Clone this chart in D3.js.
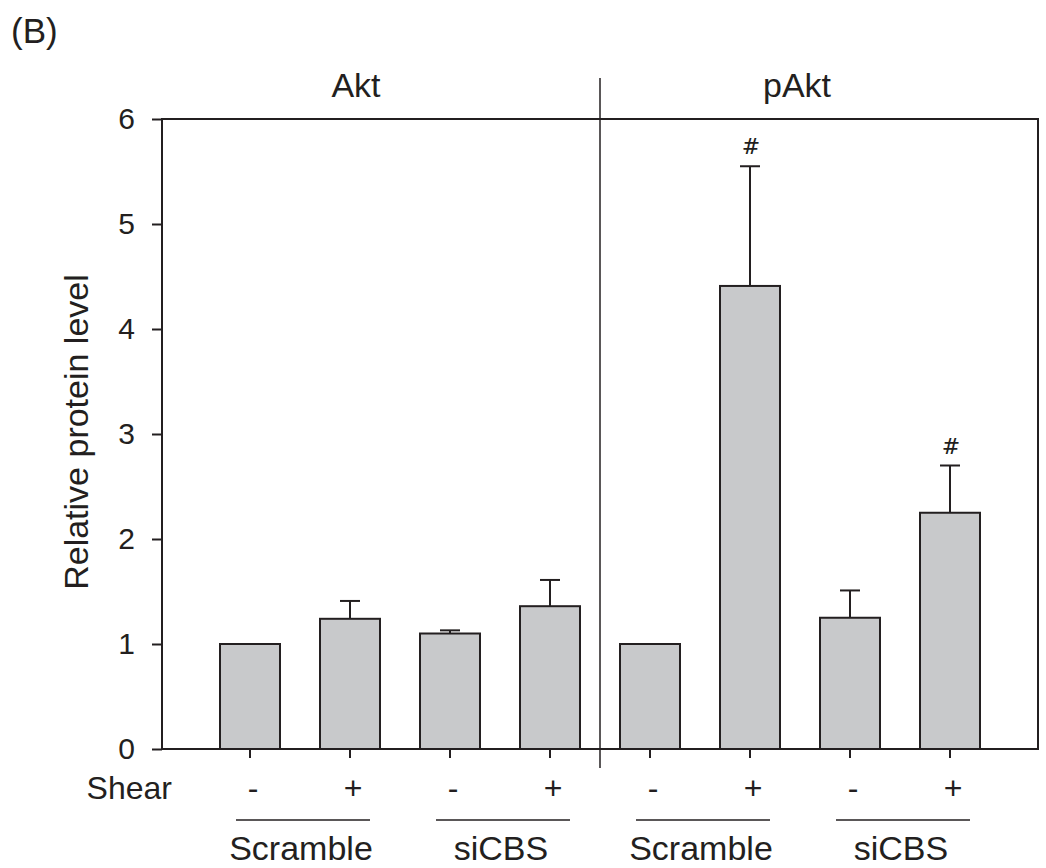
<!DOCTYPE html>
<html>
<head>
<meta charset="utf-8">
<script src="https://cdn.jsdelivr.net/npm/d3@7"></script>
<style>
  body { margin: 0; background: #fff; }
  text { font-family: "Liberation Sans", Arial, sans-serif; fill: #231f20; }
</style>
</head>
<body>
<svg id="chart" width="1046" height="868"></svg>
<script>
// values
var panels   = ["Akt", "pAkt"];
var groups   = ["Scramble", "siCBS", "Scramble", "siCBS"];
var shear    = ["-", "+", "-", "+", "-", "+", "-", "+"];
var means    = [1.00, 1.24, 1.10, 1.36, 1.00, 4.41, 1.25, 2.25];
var errs     = [0.00, 0.17, 0.03, 0.25, 0.00, 1.14, 0.26, 0.45];
var marks    = ["", "", "", "", "", "#", "", "#"];
var yTicks   = [0, 1, 2, 3, 4, 5, 6];

var ink = "#231f20";
var barFill = "#c8c9cb";

var svg = d3.select("#chart");
var m = {left: 162, right: 1038, top: 119, bottom: 749};

var ids = d3.range(means.length);

var x = d3.scaleBand()
  .domain(ids)
  .range([m.left, m.right])
  .paddingInner(0.4)
  .paddingOuter(0.58);

var y = d3.scaleLinear()
  .domain([0, 6])
  .range([m.bottom, m.top]);

var cx = function(i) { return x(i) + x.bandwidth() / 2; };

// bars
svg.append("g").selectAll("rect")
  .data(ids)
  .enter().append("rect")
    .attr("x", function(i) { return x(i); })
    .attr("y", function(i) { return y(means[i]); })
    .attr("width", x.bandwidth())
    .attr("height", function(i) { return y(0) - y(means[i]); })
    .attr("fill", barFill)
    .attr("stroke", ink)
    .attr("stroke-width", 2);

// error bars (upper only)
var eb = svg.append("g")
  .attr("stroke", ink)
  .attr("stroke-width", 2)
  .selectAll("g")
  .data(ids.filter(function(i) { return errs[i] > 0; }))
  .enter().append("g");

eb.append("line")
  .attr("x1", cx)
  .attr("x2", cx)
  .attr("y1", function(i) { return y(means[i]); })
  .attr("y2", function(i) { return y(means[i] + errs[i]); });

eb.append("line")
  .attr("x1", function(i) { return cx(i) - 10; })
  .attr("x2", function(i) { return cx(i) + 10; })
  .attr("y1", function(i) { return y(means[i] + errs[i]); })
  .attr("y2", function(i) { return y(means[i] + errs[i]); });

// significance marks
svg.append("g").selectAll("text")
  .data(ids.filter(function(i) { return marks[i]; }))
  .enter().append("text")
    .attr("x", function(i) { return cx(i) + 1; })
    .attr("y", function(i) { return y(means[i] + errs[i]) - 12; })
    .attr("text-anchor", "middle")
    .style("font-family", "'DejaVu Serif', serif")
    .style("font-style", "italic")
    .style("font-size", "22px")
    .text(function(i) { return marks[i]; });

// frame
svg.append("rect")
  .attr("x", m.left).attr("y", m.top)
  .attr("width", m.right - m.left).attr("height", m.bottom - m.top)
  .attr("fill", "none")
  .attr("stroke", ink)
  .attr("stroke-width", 2);

// y axis
var ay = svg.append("g")
  .attr("transform", `translate(${m.left}, 0)`)
  .call(d3.axisLeft(y).tickValues(yTicks).tickSize(10).tickPadding(17).tickFormat(d3.format("d")));
ay.select(".domain").remove();
ay.selectAll(".tick line").attr("stroke", ink).attr("stroke-width", 2);
ay.selectAll(".tick text")
  .style("font-size", "30px")
  .style("font-family", "'Liberation Sans', Arial, sans-serif")
  .attr("fill", ink);

// x ticks
var ax = svg.append("g")
  .attr("transform", `translate(0, ${m.bottom})`)
  .call(d3.axisBottom(x).tickSize(9).tickFormat(""));
ax.select(".domain").remove();
ax.selectAll(".tick line").attr("stroke", ink).attr("stroke-width", 2);

// shear row
svg.append("text")
  .attr("x", 172).attr("y", 799)
  .attr("text-anchor", "end")
  .style("font-size", "32px")
  .text("Shear");

svg.append("g").selectAll("text")
  .data(ids)
  .enter().append("text")
    .attr("x", function(i) { return cx(i) + 3; })
    .attr("y", 799)
    .attr("text-anchor", "middle")
    .style("font-size", "32px")
    .text(function(i) { return shear[i]; });

// group underlines and labels
var gIdx = d3.range(groups.length);

svg.append("g").selectAll("line")
  .data(gIdx)
  .enter().append("line")
    .attr("x1", function(g) { return cx(g * 2) - 14; })
    .attr("x2", function(g) { return cx(g * 2 + 1) + 20; })
    .attr("y1", 820).attr("y2", 820)
    .attr("stroke", ink)
    .attr("stroke-width", 1.5);

svg.append("g").selectAll("text")
  .data(gIdx)
  .enter().append("text")
    .attr("x", function(g) { return (cx(g * 2) + cx(g * 2 + 1)) / 2 + 1; })
    .attr("y", 860)
    .attr("text-anchor", "middle")
    .style("font-size", "34px")
    .text(function(g) { return groups[g]; });

// divider between panels
var mid = (cx(3) + cx(4)) / 2;
svg.append("line")
  .attr("x1", mid).attr("x2", mid)
  .attr("y1", 78).attr("y2", 768)
  .attr("stroke", ink)
  .attr("stroke-width", 1.5);

// panel titles
svg.append("g").selectAll("text")
  .data(panels)
  .enter().append("text")
    .attr("x", function(d, k) { return k === 0 ? (m.left + mid) / 2 - 25 : (mid + m.right) / 2 - 22; })
    .attr("y", 97)
    .attr("text-anchor", "middle")
    .style("font-size", "34px")
    .text(function(d) { return d; });

// y label
svg.append("text")
  .attr("transform", "translate(88, 432) rotate(-90)")
  .attr("text-anchor", "middle")
  .style("font-size", "34px")
  .text("Relative protein level");

// panel letter
svg.append("text")
  .attr("x", 11).attr("y", 43)
  .style("font-size", "35px")
  .text("(B)");
</script>
</body>
</html>
